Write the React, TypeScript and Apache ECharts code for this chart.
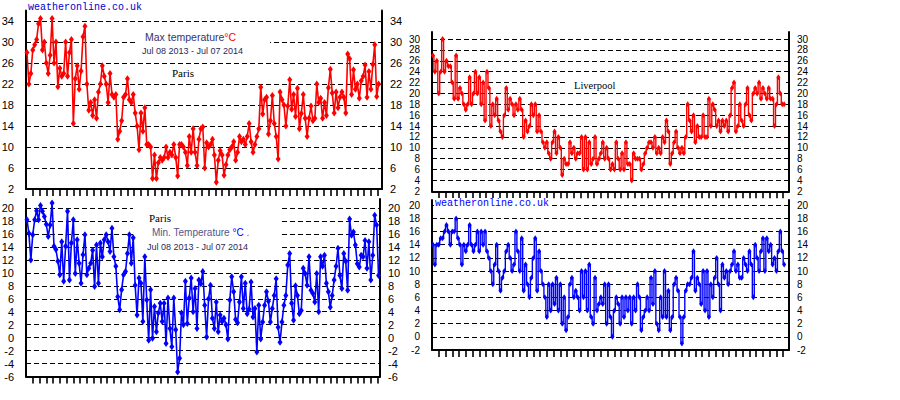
import React, { useEffect, useRef } from "react";
import * as echarts from "echarts";

// Daily temperatures (sampled every 2 days), Jul 08 2013 - Jul 07 2014
const parisMax = [
  28, 22, 24, 28.5, 29.5, 30.5, 33.5, 34.5, 28.5, 30,
  26, 24, 27.5, 34.5, 26, 30, 21.5, 25, 23.5, 24,
  30, 23.5, 28, 30.5, 14.5, 23, 25.5, 21, 24.5, 31,
  33, 22, 17, 18.5, 16, 19, 15.5, 20.5, 22, 25.5,
  23.5, 22, 18.5, 24, 20, 19.5, 20, 11.5, 13, 15,
  19.5, 20, 23, 19, 18.5, 20, 16.5, 14, 9.5, 16.5,
  13, 17.5, 10.5, 10.5, 10, 4, 8.5, 4, 7, 8,
  7.5, 8, 10, 8, 9, 8.5, 10.5, 8, 4.5, 10.5,
  10.5, 10, 9, 6.5, 12, 9, 13.5, 9, 6.5,
  11.5, 13.5, 13.8, 6, 10.8, 10, 10.5, 11.5, 8.5, 3.3,
  7.5, 9.3, 8.5, 4.6, 6.6, 8.5, 9.5, 10, 11, 7.5,
  9, 12, 11, 11.5, 10.5, 12, 14.5, 11, 9, 10.5,
  12, 13.5, 21.4, 16.3, 19, 19.5, 12.5, 15, 19.8, 14.5,
  12, 7.7, 20.5, 19, 18, 14, 17.8, 22.8, 17.2, 20,
  15.8, 21.2, 13.5, 16.4, 20, 15.5, 12, 15.5, 17.8, 15,
  15.5, 22, 18.5, 19.3, 15.5, 18.5, 16, 21.3, 24.8, 20.3,
  16.5, 20.5, 17.5, 19.5, 20.5, 19.5, 16.5, 27.7, 26.8, 20,
  24.7, 21, 22, 19.3, 22.6, 23.5, 25.6, 19.5, 24.4, 21,
  25.7, 29.5, 19.6, 22,
];

const parisMin = [
  18.2, 16.1, 12, 15.9, 18.2, 19.6, 18.2, 20.4, 19.5, 18.7,
  17.5, 15.6, 17.4, 20.8, 14.1, 13.6, 11.8, 9.7, 14.8, 8.7,
  14.1, 19.5, 8.9, 14.6, 18.2, 9.9, 15.1, 11.5, 8.4, 12.8,
  15.9, 9.7, 10.7, 11.5, 13.5, 7.9, 14.3, 8.4, 14.6, 12.5,
  15.1, 15.9, 14.8, 13.3, 16.9, 12.5, 11, 6.3, 4.3, 7.4,
  9.7, 10.2, 13, 15.9, 11.5, 15.4, 8.1, 3.5, 9.2, 8.4,
  2.5, 12.5, 5.8, -0.4, 7.4, -0.1, 4.8, 0.9, 3.8, 5.3,
  2.5, 5.3, -0.9, 6.1, 1.4, -1.4, 6.1, 1.2, -5.3, -3.2,
  3.8, 2, 8.7, 2.2, 6.1, 9.2, 4, 7.6, 1.4, 8.9,
  8.3, 10.2, 5, 0.1, 6, 8.1, 3, 1.4, 5.5, 0.9,
  3.5, 2.5, 3, 2, -0.2, 5.8, 9.4, 7.1, 2.8, 2.3,
  5.5, 9.4, 4.5, 8.4, 3.7, 4.4, 8.6, 3.2, 4.5, -2.2,
  5, -0.2, 2.4, 5, 7.1, 5.6, 2.4, 4.5, 6.5, 9.1,
  1.6, -0.7, 2.4, 5, 6.5, 11.2, 13, 5.3, 2.7, 8,
  6.5, 3.7, 4.2, 10.7, 9.9, 8.1, 12.5, 7.3, 6.8, 5.5,
  9.9, 4, 12.5, 11, 12.7, 8.4, 7.1, 4.7, 6.5, 8.9,
  11, 13.8, 9.6, 7.6, 13, 11.8, 7.3, 18.3, 15.8, 16.3,
  14.3, 11.4, 10.9, 12.7, 12.5, 15, 10.7, 14.8, 8.9, 12.7,
  18.9, 17.4, 9.6,
];

const liverpoolMax = [
  27, 24, 26, 20, 24, 30, 24, 26, 25, 25,
  22, 19, 27, 19, 21, 20, 18, 17, 18, 23,
  18, 20, 24, 20, 23, 18, 22, 15, 24, 21,
  14, 18, 16, 19, 15, 13, 12, 16, 21, 17,
  19, 18, 16, 18, 17, 19, 17, 12, 15, 13,
  14, 18, 16, 18, 13, 16, 13, 11, 10, 11,
  9, 8, 11, 13, 9, 12, 10, 5, 8, 7,
  7, 11, 9, 10, 8, 9, 9, 12, 6, 12,
  6, 11, 7, 8, 12, 7,
  8, 9, 11, 8, 10, 8, 6, 7, 6, 11,
  8, 6, 9, 6, 11, 7, 7, 4, 9, 8,
  8, 8, 6, 7, 9, 10, 11, 11, 10, 12,
  9, 10, 9, 12, 11, 15, 13, 7, 9, 11,
  13, 10, 9, 10, 9, 12, 18, 15, 13, 16,
  11, 14, 12, 12, 16, 12, 12, 19, 14, 18,
  17, 14, 15, 13, 15, 14, 15, 13, 16, 21,
  22, 13, 14, 18, 15, 14, 18, 21, 16, 15,
  20, 21, 20, 22, 19, 21, 20, 19, 21, 19,
  19, 14, 18, 23, 20, 18, 18,
];

const liverpoolMin = [
  14, 11, 14, 14, 15, 15, 16, 17, 16, 14,
  16, 16, 18, 15, 14, 11, 14, 13, 14, 17,
  14, 13, 14, 16, 13, 16, 14, 16, 13, 12,
  10, 8, 11, 14, 10, 7, 9, 10, 13, 14,
  12, 10, 11, 16, 13, 10, 15, 7, 11, 8,
  6, 9, 12, 15, 7, 13, 10, 8, 6, 3,
  8, 4, 8, 5, 9, 4, 8, 2, 6, 1,
  3, 8, 9, 6, 7, 6, 4, 10, 6, 10,
  4, 11, 3, 2, 9, 4,
  5, 6, 5, 8, 2, 8, 3, 0, 4, 6,
  5, 2, 6, 3, 6, 4, 6, 2, 6, 4,
  8, 6, 1, 3, 4, 6, 4, 9, 5, 10,
  2, 1, 6, 3, 10, 3, 7, 1, 3, 8,
  9, 7, 3, -1, 3, 7, 8, 8, 9, 13,
  7, 9, 8, 5, 10, 4, 10, 3, 8, 6,
  9, 12, 8, 4, 11, 9, 10, 8, 10, 11,
  13, 10, 11, 9, 9, 12, 11, 10, 13, 11,
  6, 14, 12, 10, 13, 15, 10, 15, 13, 14,
  11, 12, 10, 13, 16, 13, 11,
];

// axis ranges, label steps and tick labels
const parisMaxRange = [2, 36];
const parisMaxStep = 4;
const parisMinRange = [-6, 21.4];
const parisMinStep = 2;
const liverpoolMaxRange = [2, 31.3];
const liverpoolMaxStep = 2;
const liverpoolMinRange = [-2, 20.8];
const liverpoolMinStep = 2;
const liverpoolMaxLabels = [2, 4, 6, 8, 10, 12, 14, 16, 18, 20, 22, 24, 26, 28, 30];
const liverpoolMinLabels = [-2, 0, 2, 4, 6, 8, 10, 12, 14, 16, 18, 20];
const weekTicks = Array.from({ length: 52 }, (_, k) => 7 * (k + 1));

const siteName = "weatheronline.co.uk";
const dateRange = "Jul 08 2013 - Jul 07 2014";
const cityParis = "Paris";
const cityLiverpool = "Liverpool";

const toPoints = (vals: number[]) => vals.map((v, i) => [2 * i + 1, v]);

const LABEL_FONT = "'Liberation Sans', Arial, sans-serif";
const SERIF_FONT = "'Liberation Serif', serif";
const MONO_FONT = "'Liberation Mono', monospace";

function grid(left: number, top: number, width: number, height: number) {
  return { left, top, width, height, containLabel: false, outerBoundsMode: "none" };
}

function makeX(gridIndex: number, max: number) {
  return {
    type: "value",
    gridIndex,
    min: 0,
    max,
    axisLine: { show: true, onZero: false, lineStyle: { color: "#000", width: 2 } },
    axisTick: {
      show: true,
      customValues: weekTicks,
      length: 7,
      inside: false,
      lineStyle: { color: "#000", width: 1.6 },
    },
    axisLabel: { show: false },
    splitLine: { show: false },
  };
}

function makeY(
  gridIndex: number,
  range: number[],
  step: number,
  position: "left" | "right",
  fontSize: number,
  showLabels = true,
) {
  return {
    type: "value",
    gridIndex,
    position,
    min: range[0],
    max: range[1],
    interval: step,
    axisLine: { show: true, onZero: false, lineStyle: { color: "#000", width: 2 } },
    axisTick: { show: false },
    axisLabel: {
      show: showLabels,
      color: "#000",
      fontSize,
      fontFamily: LABEL_FONT,
      margin: position === "left" ? 12 : 8,
      showMaxLabel: false,
    },
    splitLine:
      position === "left"
        ? {
            show: true,
            showMaxLine: false,
            showMinLine: false,
            lineStyle: { color: "#000", width: 1, type: [5, 3] },
          }
        : { show: false },
  };
}

function lineSeries(vals: number[], xIdx: number, yIdx: number, color: string, step: boolean) {
  return {
    type: "line",
    xAxisIndex: xIdx,
    yAxisIndex: yIdx,
    data: toPoints(vals),
    step: step ? "middle" : false,
    symbol: "diamond",
    symbolSize: step ? [4, 6] : [5, 7],
    showSymbol: true,
    showAllSymbol: true,
    lineStyle: { color, width: step ? 1.4 : 1.6 },
    itemStyle: { color, borderWidth: 0 },
    z: 3,
  };
}

function txt(x: number, y: number, text: string, font: string, fill: string) {
  return { type: "text", x, y, z: 10, style: { text, font, fill, verticalAlign: "middle" } };
}

function box(x: number, y: number, width: number, height: number) {
  return { type: "rect", z: 1, shape: { x, y, width, height }, style: { fill: "#fff" } };
}

const baseGraphic: any[] = [
  txt(28, 7, siteName, "10px " + MONO_FONT, "#0000cc"),
  box(137, 29, 133, 29),
  {
    type: "text",
    x: 145,
    y: 37,
    z: 10,
    style: {
      text: "{a|Max temperature}{b|°C}",
      verticalAlign: "middle",
      rich: {
        a: { font: "10.5px " + LABEL_FONT, fill: "#34346e" },
        b: { font: "10.5px " + LABEL_FONT, fill: "#ff0000" },
      },
    },
  },
  txt(142, 51, dateRange, "9px " + LABEL_FONT, "#2a2a5a"),
  txt(172, 73, cityParis, "11px " + SERIF_FONT, "#000"),
  box(133, 200, 149, 58),
  txt(149, 218, cityParis, "11px " + SERIF_FONT, "#000"),
  {
    type: "text",
    x: 152,
    y: 232,
    z: 10,
    style: {
      text: "{a|Min. Temperature }{b|°C}{a| .}",
      verticalAlign: "middle",
      rich: {
        a: { font: "10px " + LABEL_FONT, fill: "#55558a" },
        b: { font: "10px " + LABEL_FONT, fill: "#0000ff" },
      },
    },
  },
  txt(147, 247, dateRange, "9px " + LABEL_FONT, "#2a2a5a"),
  box(567, 77, 219, 12),
  txt(574, 85, cityLiverpool, "10.5px " + SERIF_FONT, "#000"),
  box(434, 198, 116, 11),
  txt(435, 203, siteName, "10px " + MONO_FONT, "#0000ff"),
];

const option: any = {
  animation: false,
  backgroundColor: "#fff",
  grid: [
    grid(26, 10.5, 356, 178.5), // Paris max
    grid(26, 199, 354, 177.5), // Paris min
    grid(432, 32, 357, 159.3), // Liverpool max
    grid(432, 200, 357, 150), // Liverpool min
  ],
  xAxis: [makeX(0, 368.5), makeX(1, 366.5), makeX(2, 370), makeX(3, 370)],
  yAxis: [
    makeY(0, parisMaxRange, parisMaxStep, "left", 11), // 0
    makeY(0, parisMaxRange, parisMaxStep, "right", 11), // 1
    makeY(1, parisMinRange, parisMinStep, "left", 11), // 2
    makeY(1, parisMinRange, parisMinStep, "right", 11), // 3
    makeY(2, liverpoolMaxRange, liverpoolMaxStep, "left", 10, false), // 4
    makeY(2, liverpoolMaxRange, liverpoolMaxStep, "right", 10), // 5
    makeY(3, liverpoolMinRange, liverpoolMinStep, "left", 10, false), // 6
    makeY(3, liverpoolMinRange, liverpoolMinStep, "right", 10), // 7
  ],
  series: [
    lineSeries(parisMax, 0, 0, "#ff0000", false),
    lineSeries(parisMin, 1, 2, "#0000ff", false),
    lineSeries(liverpoolMax, 2, 4, "#ff0000", true),
    lineSeries(liverpoolMin, 3, 6, "#0000ff", true),
  ],
  graphic: baseGraphic,
};

export default function App() {
  const ref = useRef<HTMLDivElement>(null);
  useEffect(() => {
    if (!ref.current) return;
    const chart = echarts.init(ref.current, null, { renderer: "svg" });
    chart.setOption(option);

    // Left-side tick labels of the Liverpool panels, positioned through the series' own scales
    const leftLabels: any[] = [];
    const addLabels = (seriesIndex: number, values: number[]) => {
      values.forEach((v) => {
        const p = chart.convertToPixel({ seriesIndex }, [0, v]) as number[];
        if (!p || isNaN(p[0]) || isNaN(p[1])) return;
        leftLabels.push({
          type: "text",
          x: p[0] - 12,
          y: p[1],
          z: 10,
          style: {
            text: String(v),
            font: "10px " + LABEL_FONT,
            fill: "#000",
            align: "right",
            verticalAlign: "middle",
          },
        });
      });
    };
    addLabels(2, liverpoolMaxLabels);
    addLabels(3, liverpoolMinLabels);
    chart.setOption({ graphic: [...baseGraphic, ...leftLabels] });

    return () => chart.dispose();
  }, []);
  return (
    <div
      ref={ref}
      style={{ position: "absolute", left: 0, top: 0, width: 900, height: 400, background: "#fff" }}
    />
  );
}
